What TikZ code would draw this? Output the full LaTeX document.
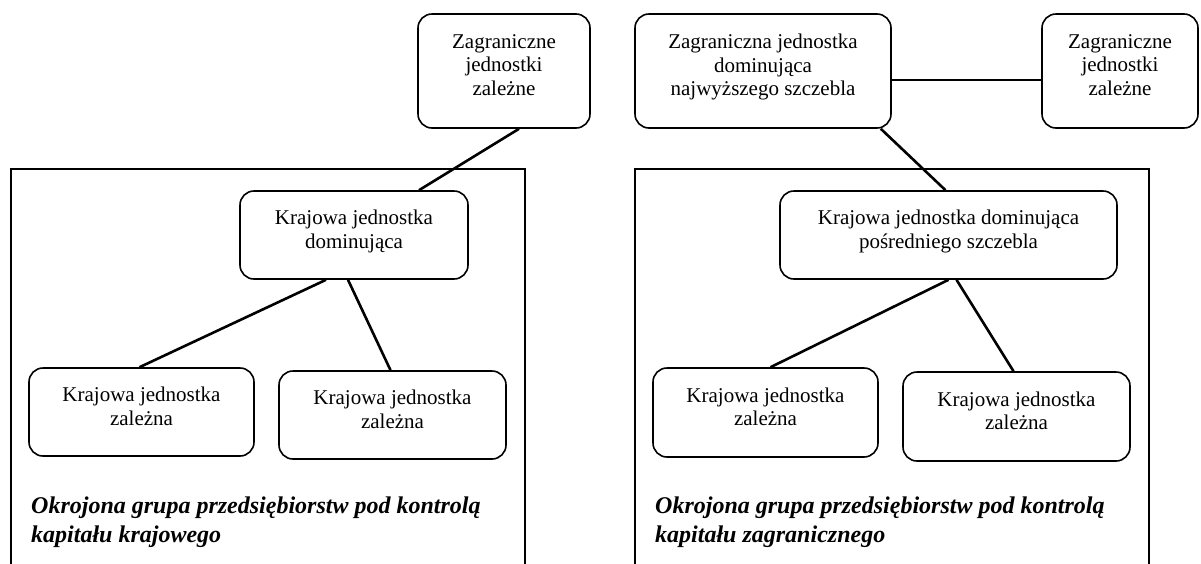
\documentclass[tikz,border=0pt]{standalone}
\usepackage{fontspec}
\setmainfont{Liberation Serif}

\begin{document}
\begin{tikzpicture}[x = 1pt, y = -1pt,
  unit/.style = {draw, line width = 1.6pt, rounded corners = 14pt, align = center,
    inner sep = 0, text depth = 12pt, font = \fontsize{21}{23.5}\selectfont},
  link/.style = {line width = 2.6pt},
  caption/.style = {anchor = north west, align = left, inner sep = 0,
    font = \fontsize{24}{29}\selectfont\bfseries\itshape}
  ]
  \pgfmathsetmacro{\fTop}{169}
  \useasboundingbox (0, 0) rectangle (1201, 563);

  % frames, open at the bottom
  \foreach \xl/\xr in {11/525, 635/1149}{
    \draw[line width = 1.6pt] (\xl, 575) |- (\xr, \fTop) -- (\xr, 575);
  }

  % left: domestic capital
  \node[unit, minimum width = 172pt, minimum height = 114pt] (zagL) at (504, 71)
  {Zagraniczne\\jednostki\\zależne};
  \node[unit, minimum width = 228pt, minimum height = 88pt] (domL) at (354, 235)
  {Krajowa jednostka\\dominująca};
  \node[unit, minimum width = 225pt, minimum height = 88pt] (kz1L) at (141.5, 412)
  {Krajowa jednostka\\zależna};
  \node[unit, minimum width = 227pt, minimum height = 88pt] (kz2L) at (392.5, 415)
  {Krajowa jednostka\\zależna};
  \node[caption] (capL) at (31, 497)
  {Okrojona grupa przedsiębiorstw pod kontrolą\\kapitału krajowego};

  \draw[link] ([xshift = 15pt]zagL.south) -- ([xshift = 65pt]domL.north);
  \draw[link] ([xshift = -28pt]domL.south) -- ([xshift = -2pt]kz1L.north);
  \draw[link] ([xshift = -6pt]domL.south) -- ([xshift = -2pt]kz2L.north);

  % right: foreign capital
  \node[unit, minimum width = 256pt, minimum height = 114pt] (topR) at (763, 71)
  {Zagraniczna jednostka\\dominująca\\najwyższego szczebla};
  \node[unit, minimum width = 156pt, minimum height = 114pt] (zagR) at (1120, 71)
  {Zagraniczne\\jednostki\\zależne};
  \node[unit, minimum width = 337pt, minimum height = 88pt] (domR) at (948.5, 235)
  {Krajowa jednostka dominująca\\pośredniego szczebla};
  \node[unit, minimum width = 225pt, minimum height = 89pt] (kz1R) at (765.5, 412.5)
  {Krajowa jednostka\\zależna};
  \node[unit, minimum width = 227pt, minimum height = 89pt] (kz2R) at (1016.5, 416.5)
  {Krajowa jednostka\\zależna};
  \node[caption] (capR) at (655, 497)
  {Okrojona grupa przedsiębiorstw pod kontrolą\\kapitału zagranicznego};

  \draw[link] ([yshift = -9pt]topR.east) -- ([yshift = -9pt]zagR.west);
  \draw[link] ([xshift = -11pt]topR.south east) -- ([xshift = -3pt]domR.north);
  \draw[link] (domR.south) -- ([xshift = 5pt]kz1R.north);
  \draw[link] ([xshift = 8pt]domR.south) -- ([xshift = -3pt]kz2R.north);
\end{tikzpicture}
\end{document}
